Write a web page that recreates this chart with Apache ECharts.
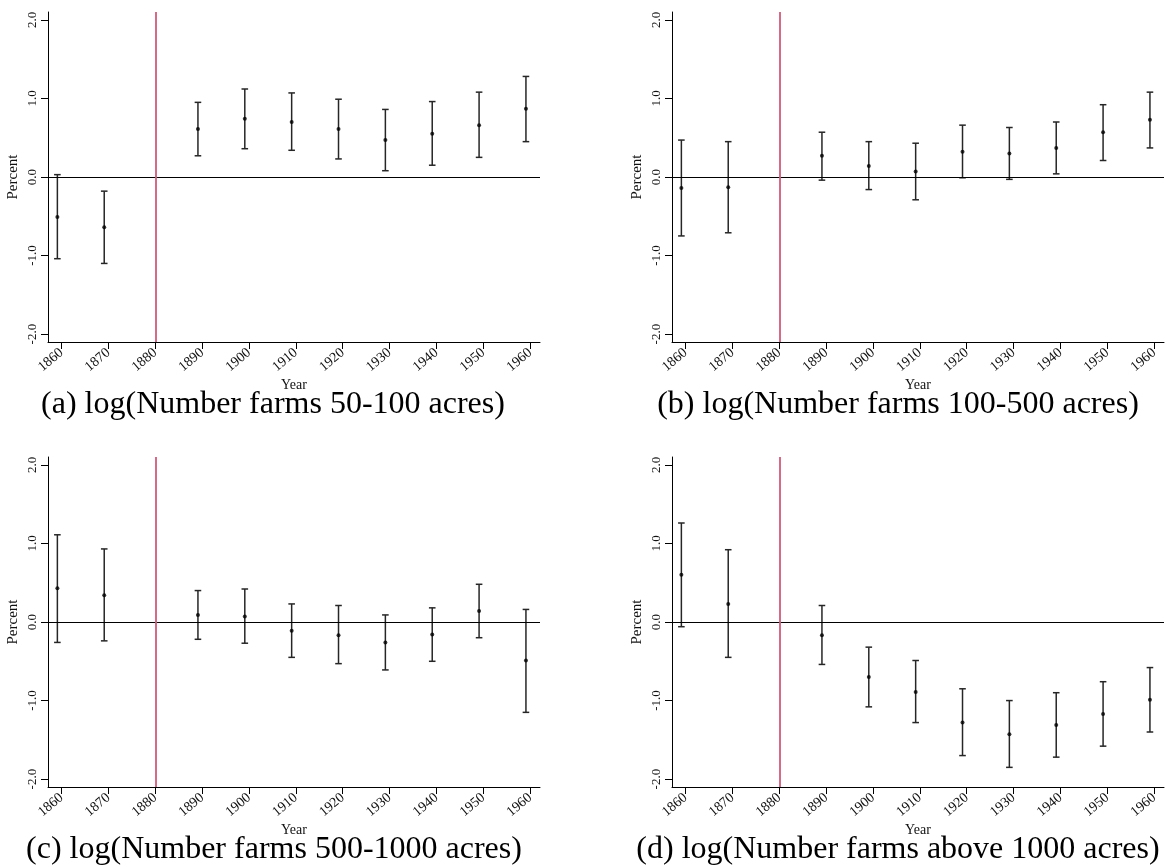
<!DOCTYPE html>
<html>
<head>
<meta charset="utf-8">
<script src="https://cdn.jsdelivr.net/npm/echarts@6/dist/echarts.min.js"></script>
<style>
html,body{margin:0;padding:0;background:#fff;}
#chart{width:1165px;height:867px;}
</style>
</head>
<body>
<div id="chart"></div>
<script>
// ---- data ----
const tickYears = [1860, 1870, 1880, 1890, 1900, 1910, 1920, 1930, 1940, 1950, 1960];
const pointYears = [1859.1, 1869.1, 1889.1, 1899.1, 1909.1, 1919.1, 1929.1, 1939.1, 1949.1, 1959.1];
const yTicks = [-2, -1, 0, 1, 2];
const treatmentYear = 1880;

const coefA = [-0.51, -0.64, 0.61, 0.74, 0.70, 0.61, 0.47, 0.55, 0.66, 0.87];
const lowA  = [-1.04, -1.10, 0.27, 0.36, 0.34, 0.23, 0.08, 0.15, 0.25, 0.45];
const highA = [0.03, -0.18, 0.95, 1.12, 1.07, 0.99, 0.86, 0.96, 1.08, 1.28];

const coefB = [-0.14, -0.13, 0.27, 0.14, 0.07, 0.32, 0.30, 0.37, 0.57, 0.73];
const lowB  = [-0.75, -0.71, -0.04, -0.16, -0.29, -0.01, -0.03, 0.04, 0.21, 0.37];
const highB = [0.47, 0.45, 0.57, 0.45, 0.43, 0.66, 0.63, 0.70, 0.92, 1.08];

const coefC = [0.43, 0.34, 0.09, 0.07, -0.11, -0.17, -0.26, -0.16, 0.14, -0.49];
const lowC  = [-0.26, -0.24, -0.22, -0.27, -0.45, -0.53, -0.61, -0.50, -0.20, -1.15];
const highC = [1.11, 0.93, 0.40, 0.42, 0.23, 0.21, 0.09, 0.18, 0.48, 0.16];

const coefD = [0.60, 0.23, -0.17, -0.70, -0.89, -1.28, -1.43, -1.31, -1.17, -0.99];
const lowD  = [-0.06, -0.45, -0.54, -1.08, -1.28, -1.70, -1.85, -1.72, -1.58, -1.40];
const highD = [1.26, 0.92, 0.21, -0.32, -0.49, -0.85, -1.00, -0.90, -0.76, -0.58];

const captions = [
  '(a) log(Number farms 50-100 acres)',
  '(b) log(Number farms 100-500 acres)',
  '(c) log(Number farms 500-1000 acres)',
  '(d) log(Number farms above 1000 acres)'
];
const xAxisTitle = 'Year';
const yAxisTitle = 'Percent';

// ---- layout ----
const panels = [
  {coef: coefA, low: lowA, high: highA, left: 48, top: 12, cx: 273, cy: 405},
  {coef: coefB, low: lowB, high: highB, left: 672, top: 12, cx: 898, cy: 405},
  {coef: coefC, low: lowC, high: highC, left: 48, top: 457, cx: 274, cy: 850},
  {coef: coefD, low: lowD, high: highD, left: 672, top: 457, cx: 898, cy: 850}
];
const gridW = 492, gridH = 330;
const serif = '"Liberation Serif", "DejaVu Serif", serif';

const grids = [], xAxes = [], yAxes = [], series = [], graphics = [];
panels.forEach((p, i) => {
  grids.push({left: p.left, top: p.top, width: gridW, height: gridH, containLabel: false});
  xAxes.push({
    type: 'value', gridIndex: i, min: 1857.1, max: 1962.1,
    name: xAxisTitle, nameLocation: 'middle', nameGap: 36,
    nameTextStyle: {fontFamily: serif, fontSize: 14, color: '#111'},
    axisLine: {show: true, onZero: false, lineStyle: {color: '#000', width: 1}},
    axisTick: {show: true, length: 7, customValues: tickYears, lineStyle: {color: '#000'}},
    axisLabel: {customValues: tickYears, rotate: 40, margin: 9, fontFamily: serif, fontSize: 14, color: '#111',
      formatter: v => String(Math.round(v))},
    splitLine: {show: false}
  });
  yAxes.push({
    type: 'value', gridIndex: i, min: -2.1, max: 2.1,
    name: yAxisTitle, nameLocation: 'middle', nameGap: 27, nameRotate: 90,
    nameTextStyle: {fontFamily: serif, fontSize: 15, color: '#111'},
    axisLine: {show: true, onZero: false, lineStyle: {color: '#000', width: 1}},
    axisTick: {show: true, length: 7, customValues: yTicks, lineStyle: {color: '#000'}},
    axisLabel: {customValues: yTicks, rotate: 90, margin: 9, fontFamily: serif, fontSize: 13, color: '#111',
      formatter: v => v.toFixed(1)},
    splitLine: {show: false}
  });
  const barData = pointYears.map((x, k) => [x, p.low[k], p.high[k]]);
  const ptData = pointYears.map((x, k) => [x, p.coef[k]]);
  series.push({
    type: 'custom', xAxisIndex: i, yAxisIndex: i, data: barData, z: 3,
    renderItem: function (params, api) {
      const x = api.value(0);
      const a = api.coord([x, api.value(1)]);
      const b = api.coord([x, api.value(2)]);
      const w = 3.3;
      const st = {stroke: '#262626', lineWidth: 1.5};
      return {type: 'group', children: [
        {type: 'line', shape: {x1: a[0], y1: a[1], x2: b[0], y2: b[1]}, style: st},
        {type: 'line', shape: {x1: a[0] - w, y1: a[1], x2: a[0] + w, y2: a[1]}, style: st},
        {type: 'line', shape: {x1: b[0] - w, y1: b[1], x2: b[0] + w, y2: b[1]}, style: st}
      ]};
    }
  });
  series.push({
    type: 'scatter', xAxisIndex: i, yAxisIndex: i, data: ptData, z: 4,
    symbol: 'circle', symbolSize: 4, itemStyle: {color: '#000'},
    markLine: {
      silent: true, symbol: 'none', animation: false,
      label: {show: false},
      data: [
        {yAxis: 0, lineStyle: {color: '#000', width: 1.2, type: 'solid'}},
        {xAxis: treatmentYear, lineStyle: {color: '#d45a7a', width: 1.8, type: 'solid'}}
      ]
    }
  });
  graphics.push({
    type: 'text', x: p.cx, y: p.cy,
    style: {text: captions[i], font: '32px ' + serif, fill: '#000', align: 'center', verticalAlign: 'middle'}
  });
});

const chart = echarts.init(document.getElementById('chart'), null, {renderer: 'canvas'});
chart.setOption({
  animation: false,
  backgroundColor: '#fff',
  grid: grids, xAxis: xAxes, yAxis: yAxes, series: series, graphic: graphics
});
</script>
</body>
</html>
